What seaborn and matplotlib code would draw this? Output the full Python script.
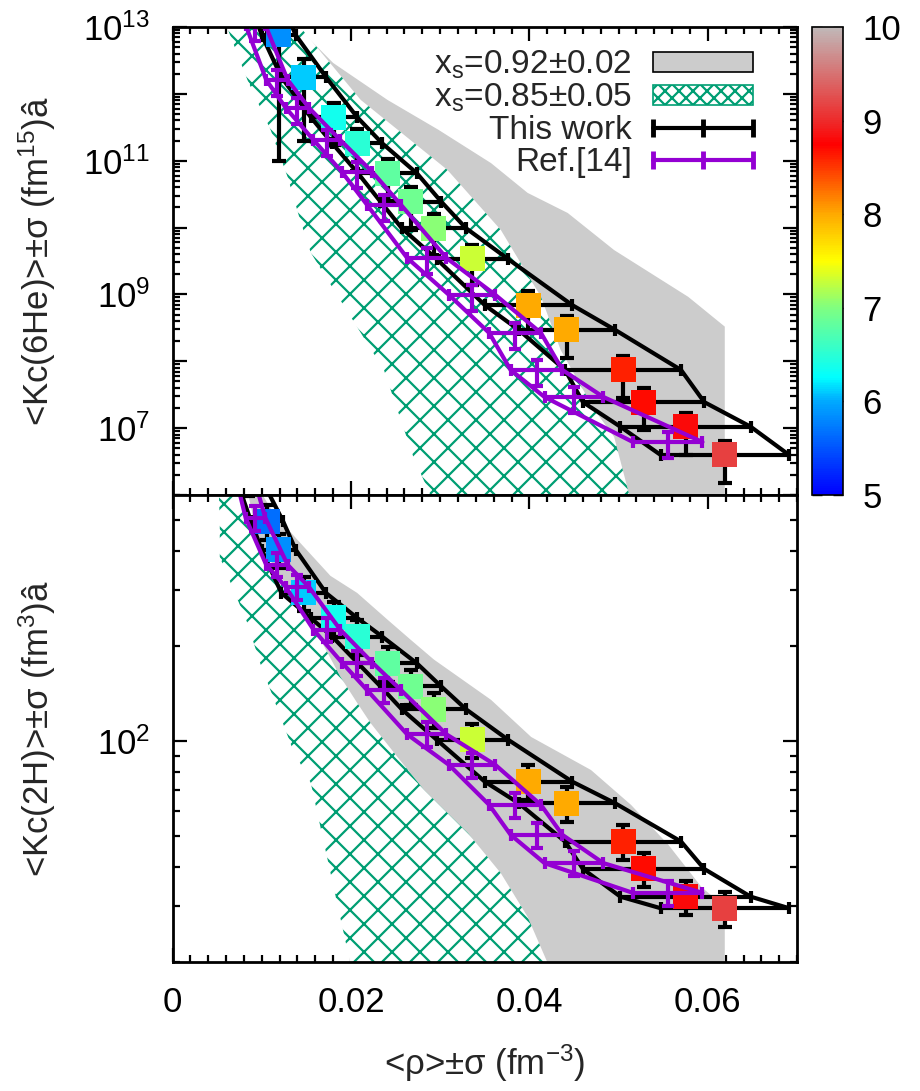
import numpy as np
import pandas as pd
import matplotlib
matplotlib.use("Agg")
import matplotlib.pyplot as plt
import seaborn as sns
from matplotlib.colors import LinearSegmentedColormap, Normalize
from matplotlib.cm import ScalarMappable
from matplotlib.lines import Line2D
from matplotlib.patches import Patch
from matplotlib.legend_handler import HandlerLine2D
from matplotlib.ticker import LogLocator, FuncFormatter, MultipleLocator, NullFormatter

# ---------------- data: "This work" ----------------
rho_this = [0.0085, 0.0106, 0.0119, 0.0147, 0.0181, 0.0207, 0.0241, 0.0267, 0.0293,
            0.0336, 0.0399, 0.0442, 0.0505, 0.0528, 0.0575, 0.0619]
sig_rho_this = [0.0014, 0.0018, 0.0019, 0.0025, 0.0026, 0.0028, 0.0033, 0.0034, 0.0036,
                0.0040, 0.0049, 0.0054, 0.0065, 0.0068, 0.0073, 0.0072]
T_this = [5.3, 5.65, 5.85, 6.1, 6.35, 6.5, 6.8, 6.9, 7.05, 7.3, 8.0, 8.0, 8.6, 8.7, 8.8, 9.15]
K6He_this = [1.0e14, 2.09e13, 7.59e12, 1.78e12, 4.47e11, 1.82e11, 6.46e10, 2.45e10, 9.77e9,
             3.39e9, 6.92e8, 2.95e8, 7.41e7, 2.45e7, 1.05e7, 3.98e6]
dK6He_this = [6.0e13, 1.46e13, 7.49e12, 1.58e12, 2.77e11, 1.13e11, 4.0e10, 1.52e10, 6.06e9,
              2.03e9, 4.29e8, 1.83e8, 4.59e7, 1.52e7, 6.5e6, 2.47e6]
K2H_this = [680, 495, 403, 294, 245, 214, 176, 149, 126, 101, 74.4, 63.6, 48.1, 39.4, 32.2, 29.6]
dK2H_this = [85, 62, 50, 37, 31, 27, 22, 19, 16, 12.6, 9.3, 8.0, 6.0, 4.9, 4.0, 3.7]

# ---------------- data: Ref.[14] ----------------
rho_ref = [0.0080, 0.0093, 0.0117, 0.0140, 0.0173, 0.0207, 0.0237, 0.0285, 0.0336,
           0.0384, 0.0408, 0.0450, 0.0555]
sig_rho_ref = [0.0010, 0.0011, 0.0012, 0.0013, 0.0015, 0.0017, 0.0019, 0.0022, 0.0026,
               0.0029, 0.0029, 0.0033, 0.0039]
K6He_ref = [1.0e14, 1.07e13, 1.62e12, 6.15e11, 2.04e11, 6.76e10, 2.19e10, 3.51e9, 9.8e8,
            2.65e8, 7.41e7, 2.92e7, 6.2e6]
dK6He_ref = [4.2e13, 4.5e12, 6.8e11, 2.6e11, 8.6e10, 2.8e10, 9.2e9, 1.47e9, 4.1e8,
             1.11e8, 3.1e7, 1.23e7, 2.6e6]
K2H_ref = [700, 508, 361, 307, 225, 177, 145, 105, 84, 62.8, 50.5, 41.1, 33.1]
dK2H_ref = [63, 46, 32, 28, 20, 16, 13, 9.5, 7.6, 5.7, 4.5, 3.7, 3.0]

# ---------------- bands (boundary polygons) ----------------
grey_top_rho = [0.0076, 0.0140, 0.0180, 0.0241, 0.0298, 0.0357, 0.0398, 0.0443, 0.0495,
                0.0578, 0.0619, 0.0619, 0.0480]
grey_top_K = [1e13, 1e13, 2.9e12, 8.1e11, 2.9e11, 9.2e10, 3.3e10, 1.65e10, 4.6e9,
              9.2e8, 3.3e8, 1e6, 1e6]
hatch_top_rho = [0.0061, 0.0084, 0.0110, 0.0129, 0.0143, 0.0155, 0.0237, 0.0270, 0.0289,
                 0.0512, 0.0495, 0.0473, 0.0435, 0.0413, 0.0368, 0.0308, 0.0211, 0.0143, 0.0087]
hatch_top_K = [1e13, 1.61e12, 2.88e11, 5.7e10, 1.30e10, 4.2e9, 7.4e7, 3.7e6, 1e6,
               1e6, 7.4e6, 1.87e7, 1.48e8, 9.2e8, 9.2e9, 7.3e10, 8.1e11, 1e13, 1e13]
grey_bot_rho = [0.0101, 0.0113, 0.0140, 0.0177, 0.0207, 0.0241, 0.0267, 0.0293, 0.0357,
                0.0402, 0.0469, 0.0514, 0.0556, 0.0593, 0.0619, 0.0619,
                0.0390, 0.0312, 0.0256, 0.0228, 0.0199, 0.0171, 0.0143, 0.0115, 0.0096, 0.0085]
grey_bot_K = [600, 527, 433, 333, 294, 242, 209, 181, 135, 103, 81, 62.8, 46.9, 34.5, 29.9, 20,
              20, 39.1, 70, 101, 135, 181, 242, 324, 433, 600]
hatch_bot_rho = [0.0052, 0.0053, 0.0053, 0.0065, 0.0084, 0.0098, 0.0117, 0.0135, 0.0155, 0.0199,
                 0.0420, 0.0398, 0.0368, 0.0331, 0.0282, 0.0252, 0.0222, 0.0207, 0.0188, 0.0166,
                 0.0147, 0.0121, 0.0102, 0.0087, 0.0073]
hatch_bot_K = [600, 490, 382, 317, 236, 177, 128, 93.7, 73.7, 20,
               20, 27.8, 38.2, 51.2, 70, 89.1, 114, 132, 160, 209, 266, 331, 403, 466, 600]

# ---------------- style ----------------
GREY = "#cccccc"
GREEN = "#009e73"
PURPLE = "#9400d3"
cmap = LinearSegmentedColormap.from_list(
    "pal", [(0.0, "#0000ff"), (0.2, "#00aaff"), (0.25, "#00ffff"), (0.4, "#80ff80"),
            (0.5, "#ffff00"), (0.6, "#ffaa00"), (0.75, "#ff0000"), (0.8, "#ee2a2a"),
            (1.0, "#c0b8b8")])

DPI = 84
F = 100.0 / DPI  # point-size scale so that sizes match a 100-dpi layout

sns.set_theme(style="ticks")
plt.rcParams.update({
    "font.family": ["Liberation Sans", "DejaVu Sans"],
    "mathtext.fontset": "custom",
    "mathtext.rm": "Liberation Sans",
    "mathtext.it": "Liberation Sans:italic",
    "mathtext.bf": "Liberation Sans:bold",
    "mathtext.default": "regular",
    "hatch.linewidth": 1.6 * F,
    "axes.linewidth": 2.0 * F,
    "axes.edgecolor": "black",
})

fig = plt.figure(figsize=(921 / DPI, 1091 / DPI), dpi=DPI)
ax1 = fig.add_axes([0.1873, 0.5463, 0.6781, 0.4290])
ax2 = fig.add_axes([0.1873, 0.1182, 0.6781, 0.4281])
cax = fig.add_axes([0.8817, 0.5463, 0.0337, 0.4290])

LW = 3.0 * F
FS_TICK = 25 * F
FS_LAB = 25 * F


def panel(ax, K_this, dK_this, K_ref, dK_ref, g_rho, g_K, h_rho, h_K):
    ax.set_yscale("log")
    ax.fill(g_rho, g_K, facecolor=GREY, edgecolor="none", lw=0, zorder=1)
    ax.fill(h_rho, h_K, facecolor="white", edgecolor=GREEN, hatch="x", lw=0, zorder=2)

    r = np.array(rho_this)
    s = np.array(sig_rho_this)
    d = pd.DataFrame({"lo": r - s, "hi": r + s, "rho": r, "K": K_this, "T": T_this})
    sns.lineplot(data=d, x="lo", y="K", sort=False, estimator=None, color="black",
                 lw=LW, ax=ax, zorder=3)
    sns.lineplot(data=d, x="hi", y="K", sort=False, estimator=None, color="black",
                 lw=LW, ax=ax, zorder=3)
    ax.errorbar(r, K_this, xerr=s, fmt="none", ecolor="black", elinewidth=LW,
                capsize=4.5 * F, capthick=LW, zorder=3)
    ax.errorbar(r, K_this, yerr=dK_this, fmt="none", ecolor="black", elinewidth=LW,
                capsize=4.7 * F, capthick=LW, zorder=3)
    sns.scatterplot(data=d, x="rho", y="K", hue="T", palette=cmap, hue_norm=(5, 10),
                    marker="s", s=324 * F * F, edgecolor="none", linewidth=0, legend=False,
                    ax=ax, zorder=4)

    rr = np.array(rho_ref)
    sr = np.array(sig_rho_ref)
    dr = pd.DataFrame({"lo": rr - sr, "hi": rr + sr, "K": K_ref})
    sns.lineplot(data=dr, x="lo", y="K", sort=False, estimator=None, color=PURPLE,
                 lw=LW, ax=ax, zorder=5)
    sns.lineplot(data=dr, x="hi", y="K", sort=False, estimator=None, color=PURPLE,
                 lw=LW, ax=ax, zorder=5)
    ax.errorbar(rr, K_ref, xerr=sr, yerr=dK_ref, fmt="none", ecolor=PURPLE,
                elinewidth=LW, capsize=4.2 * F, capthick=LW, zorder=5)

    ax.set_xlim(0, 0.07)
    ax.xaxis.set_major_locator(MultipleLocator(0.02))
    ax.xaxis.set_minor_locator(MultipleLocator(0.002))
    ax.yaxis.set_major_locator(LogLocator(base=10, numticks=30))
    ax.yaxis.set_minor_locator(LogLocator(base=10, subs=np.arange(2, 10) * 1.0, numticks=30))
    ax.yaxis.set_minor_formatter(NullFormatter())
    ax.tick_params(which="both", direction="in", top=True, right=True,
                   colors="black", width=1.6 * F, labelsize=FS_TICK)
    ax.tick_params(which="major", length=10 * F)
    ax.tick_params(which="minor", length=5 * F)
    ax.tick_params(axis="y", which="both", pad=16 * F)
    ax.tick_params(axis="x", which="both", pad=17 * F)
    ax.set_xlabel("")
    ax.set_ylabel("")
    for sp in ax.spines.values():
        sp.set_linewidth(2.0 * F)
        sp.set_zorder(8)


panel(ax1, K6He_this, dK6He_this, K6He_ref, dK6He_ref,
      grey_top_rho, grey_top_K, hatch_top_rho, hatch_top_K)
panel(ax2, K2H_this, dK2H_this, K2H_ref, dK2H_ref,
      grey_bot_rho, grey_bot_K, hatch_bot_rho, hatch_bot_K)

ax1.set_ylim(1e6, 1e13)
ax2.set_ylim(20, 600)


def odd_pow(v, p):
    e = int(round(np.log10(v)))
    return r"$10^{%d}$" % e if e % 2 == 1 else ""


ax1.yaxis.set_major_formatter(FuncFormatter(odd_pow))
ax2.yaxis.set_major_formatter(FuncFormatter(lambda v, p: r"$10^{%d}$" % int(round(np.log10(v)))))
ax1.tick_params(axis="x", labelbottom=False)
ax2.xaxis.set_major_formatter(FuncFormatter(lambda v, p: "0" if abs(v) < 1e-9 else "%.2f" % v))

ax1.set_ylabel(r"<Kc(6He)>±σ (fm$^{15}$)â", fontsize=FS_LAB)
ax2.set_ylabel(r"<Kc(2H)>±σ (fm$^{3}$)â", fontsize=FS_LAB)
ax1.yaxis.set_label_coords(-0.183, 0.5)
ax2.yaxis.set_label_coords(-0.183, 0.5)
ax2.set_xlabel(r"<ρ>±σ (fm$^{-3}$)", fontsize=FS_LAB, labelpad=17 * F)

# legend
handles = [Patch(facecolor=GREY, edgecolor="black", lw=1.2 * F),
           Patch(facecolor="white", edgecolor=GREEN, hatch="xx", lw=1.2 * F),
           Line2D([], [], color="black", lw=3 * F, marker="|", ms=13 * F, mew=3.5 * F),
           Line2D([], [], color=PURPLE, lw=3 * F, marker="|", ms=13 * F, mew=3.5 * F)]
labels = [r"x$_{s}$=0.92±0.02", r"x$_{s}$=0.85±0.05", "This work", "Ref.[14]"]
leg = ax1.legend(handles, labels, loc="upper right", bbox_to_anchor=(0.93, 0.953),
                 markerfirst=False, frameon=False, fontsize=24 * F, handlelength=3.0,
                 handleheight=0.55, handletextpad=0.65, labelspacing=0.02,
                 borderpad=0, borderaxespad=0, numpoints=3,
                 handler_map={Line2D: HandlerLine2D(marker_pad=0, numpoints=3)})
leg.set_zorder(10)

# colorbar
sm = ScalarMappable(norm=Normalize(5, 10), cmap=cmap)
cb = fig.colorbar(sm, cax=cax, ticks=range(5, 11))
cb.outline.set_linewidth(1.2 * F)
cax.tick_params(axis="y", direction="in", length=7 * F, width=1.0 * F, left=True, right=True,
                labelsize=FS_TICK, pad=14 * F, colors="black")
cax.yaxis.set_minor_locator(plt.NullLocator())

fig.savefig("out.png", dpi=DPI)
